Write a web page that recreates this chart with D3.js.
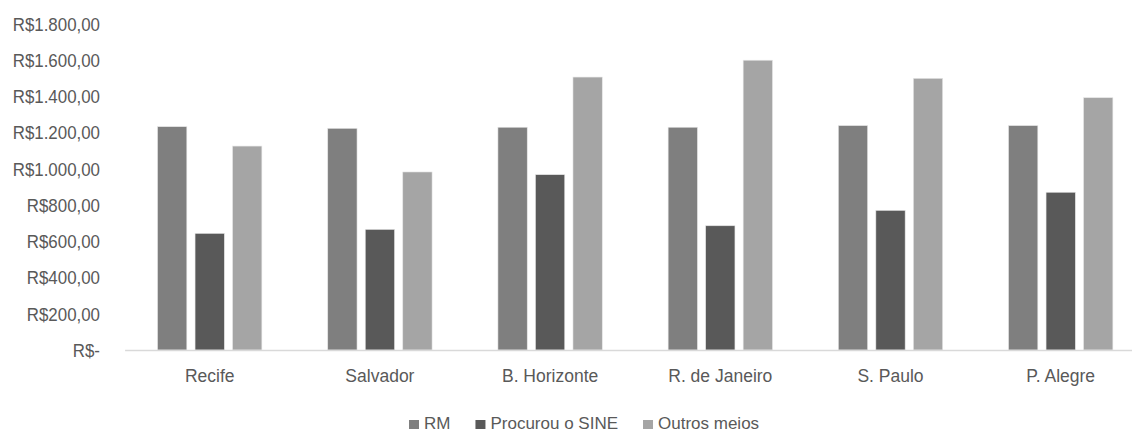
<!DOCTYPE html>
<html>
<head>
<meta charset="utf-8">
<script src="https://cdn.jsdelivr.net/npm/d3@7/dist/d3.min.js"></script>
<style>
  html, body { margin: 0; padding: 0; background: #fff; }
  svg { display: block; }
  text { font-family: "Liberation Sans", Arial, sans-serif; fill: #595959; }
</style>
</head>
<body>
<svg id="chart" width="1132" height="432"></svg>
<script>
// Rendimento médio por região metropolitana e forma de procura
const categories = ["Recife", "Salvador", "B. Horizonte", "R. de Janeiro", "S. Paulo", "P. Alegre"];
const seriesNames = ["RM", "Procurou o SINE", "Outros meios"];
const seriesColors = ["#7f7f7f", "#595959", "#a5a5a5"];
const rmValues      = [1233, 1224, 1230, 1230, 1239, 1239];
const sineValues    = [644, 666, 968, 686, 771, 871];
const outrosValues  = [1126, 983, 1507, 1600, 1500, 1393];
const yTicks = [0, 200, 400, 600, 800, 1000, 1200, 1400, 1600, 1800];

const seriesValues = [rmValues, sineValues, outrosValues];
const rows = categories.map((c, i) => ({
  category: c,
  values: seriesNames.map((s, j) => ({ key: s, value: seriesValues[j][i], color: seriesColors[j] }))
}));

const FONT = "'Liberation Sans', Arial, sans-serif";
const svg = d3.select("#chart");
const plotLeft = 124.6, plotRight = 1145.8, plotTop = 24, plotBottom = 350;

const x0 = d3.scaleBand().domain(categories).range([plotLeft, plotRight]).padding(0);
const groupWidth = x0.bandwidth() * 0.613;
const x1 = d3.scaleBand().domain(seriesNames)
  .range([(x0.bandwidth() - groupWidth) / 2, (x0.bandwidth() + groupWidth) / 2])
  .paddingInner(0.219).paddingOuter(0);
const y = d3.scaleLinear().domain([0, 1800]).range([plotBottom, plotTop]);

// Y axis labels (currency, pt-BR)
const brl = v => v === 0 ? "R$-" : "R$" + d3.format(",.2f")(v).replace(/,/g, "#").replace(/\./g, ",").replace(/#/g, ".");
const yAxis = d3.axisLeft(y).tickValues(yTicks).tickFormat(brl).tickSize(0).tickPadding(0);
svg.append("g")
  .attr("transform", "translate(100,0)")
  .call(yAxis)
  .call(g => g.select(".domain").remove())
  .call(g => g.selectAll("text").attr("font-size", 17.5).attr("fill", "#595959")
    .attr("font-family", FONT).attr("dy", "0.36em")
    .attr("transform", "scale(0.965,1)"));

// Bars
const groups = svg.append("g").selectAll("g")
  .data(rows).join("g")
  .attr("transform", d => `translate(${x0(d.category)},0)`);
groups.selectAll("rect")
  .data(d => d.values).join("rect")
  .attr("x", d => x1(d.key))
  .attr("width", x1.bandwidth())
  .attr("y", d => y(d.value))
  .attr("height", d => y(0) - y(d.value))
  .attr("fill", d => d.color)
  .attr("stroke", "#e6e6e6")
  .attr("stroke-width", 0.6);

// Category axis
const xAxis = d3.axisBottom(x0).tickSize(0).tickPadding(0);
svg.append("g")
  .attr("transform", `translate(0,${plotBottom})`)
  .call(xAxis)
  .call(g => g.select(".domain").attr("stroke", "#d9d9d9").attr("stroke-width", 1.3))
  .call(g => g.selectAll("text").attr("y", 32).attr("dy", "0").attr("font-size", 17.5).attr("fill", "#595959")
    .attr("font-family", FONT));

// Legend
const legend = svg.append("g").attr("transform", "translate(0,428.5)");
const items = legend.selectAll("g").data(seriesNames).join("g");
items.append("rect").attr("width", 10).attr("height", 9).attr("y", -8.5)
  .attr("fill", (d, i) => seriesColors[i]);
items.append("text").attr("x", 15).attr("font-size", 17).text(d => d);
let cursor = 409;
const offsets = [];
items.each(function () {
  offsets.push(cursor);
  cursor += this.getBBox().width + 25;
});
items.attr("transform", (d, i) => `translate(${offsets[i]},0)`);
</script>
</body>
</html>
